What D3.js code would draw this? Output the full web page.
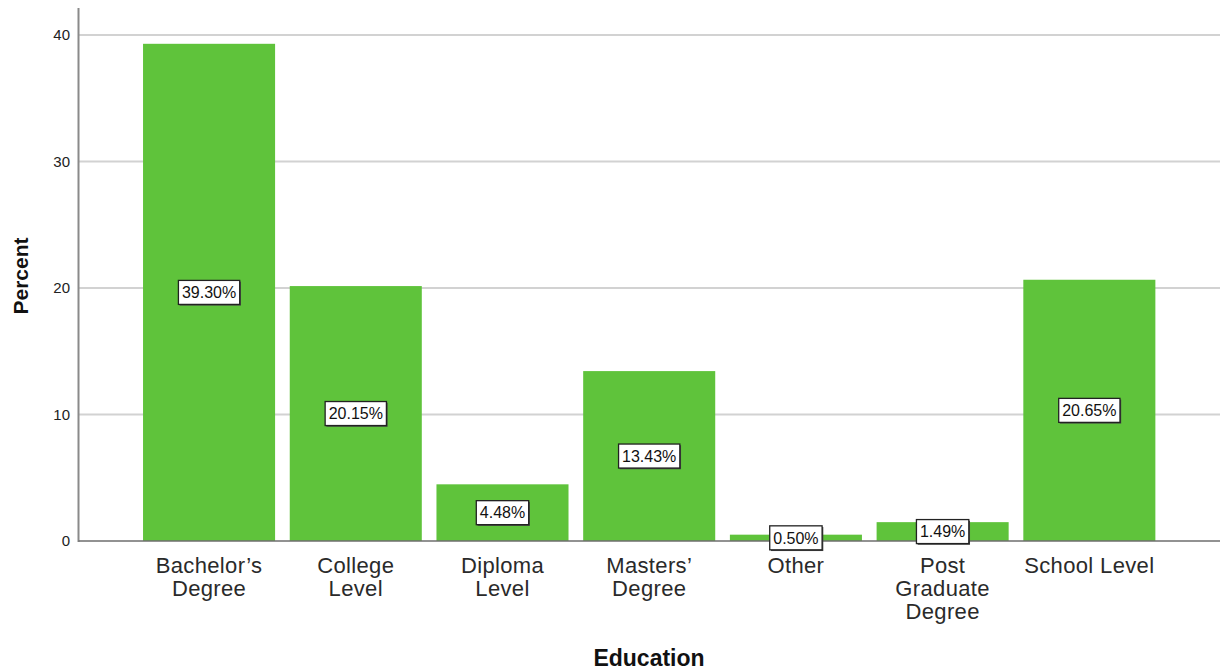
<!DOCTYPE html>
<html>
<head>
<meta charset="utf-8">
<script src="https://cdn.jsdelivr.net/npm/d3@7"></script>
<style>
  html, body { margin: 0; padding: 0; background: #fff; }
  svg { display: block; font-family: "Liberation Sans", Arial, sans-serif; }
</style>
</head>
<body>
<svg id="chart" width="1223" height="670"></svg>
<script>
const categories = ["Bachelor’s Degree", "College Level", "Diploma Level", "Masters’ Degree", "Other", "Post Graduate Degree", "School Level"];
const labelLines = [["Bachelor’s", "Degree"], ["College", "Level"], ["Diploma", "Level"], ["Masters’", "Degree"], ["Other"], ["Post", "Graduate", "Degree"], ["School Level"]];
const percents = [39.30, 20.15, 4.48, 13.43, 0.50, 1.49, 20.65];
const yTicks = [0, 10, 20, 30, 40];
const xTitle = "Education";
const yTitle = "Percent";

const svg = d3.select("#chart");
const axisX = 78.5, plotRight = 1220, plotTop = 8, plotBottom = 541;

const y = d3.scaleLinear().domain([0, 42.13]).range([plotBottom, plotTop]);
const x = d3.scaleBand().domain(categories).range([135.7, 1162.7]).paddingInner(0.1).paddingOuter(0.05);

// gridlines
svg.append("g").selectAll("line").data(yTicks.filter(d => d > 0)).join("line")
  .attr("x1", axisX).attr("x2", plotRight)
  .attr("y1", d => y(d)).attr("y2", d => y(d))
  .attr("stroke", "#d2d2d2").attr("stroke-width", 2);

// bars
svg.append("g").selectAll("rect").data(categories).join("rect")
  .attr("x", d => x(d)).attr("width", x.bandwidth())
  .attr("y", (d, i) => y(percents[i]))
  .attr("height", (d, i) => y(0) - y(percents[i]))
  .attr("fill", "#5fc33b");

// axes lines
svg.append("line").attr("x1", axisX).attr("x2", axisX).attr("y1", plotTop).attr("y2", plotBottom + 1)
  .attr("stroke", "#8a8a8a").attr("stroke-width", 2);
svg.append("line").attr("x1", axisX).attr("x2", plotRight).attr("y1", plotBottom).attr("y2", plotBottom)
  .attr("stroke", "#6e6e6e").attr("stroke-width", 1.5);

// y tick labels
svg.append("g").selectAll("text").data(yTicks).join("text")
  .attr("x", 70).attr("y", d => y(d)).attr("dy", "0.36em")
  .attr("text-anchor", "end").attr("font-size", 15).attr("fill", "#222")
  .text(d => d);

// x labels
const xl = svg.append("g").selectAll("text").data(categories).join("text")
  .attr("text-anchor", "middle").attr("font-size", 22).attr("letter-spacing", 0.35).attr("fill", "#2a2a2a")
  .attr("x", d => x(d) + x.bandwidth() / 2).attr("y", 573);
xl.each(function(d, i) {
  const t = d3.select(this);
  labelLines[i].forEach((ln, j) => {
    t.append("tspan").attr("x", x(d) + x.bandwidth() / 2).attr("dy", j === 0 ? 0 : 23).text(ln);
  });
});

// value labels
const vl = svg.append("g").selectAll("g").data(categories).join("g")
  .attr("transform", (d, i) => `translate(${x(d) + x.bandwidth() / 2},${y(percents[i] / 2)})`);
vl.each(function(d, i) {
  const g = d3.select(this);
  const txt = g.append("text").attr("text-anchor", "middle").attr("dy", "0.36em")
    .attr("font-size", 16).attr("fill", "#111").text(percents[i].toFixed(2) + "%");
  const bb = txt.node().getBBox();
  const w = bb.width + 7, h = 24;
  g.insert("rect", "text").attr("x", -w / 2 + 1.2).attr("y", -h / 2 + 1.2).attr("width", w).attr("height", h)
    .attr("fill", "#444");
  g.insert("rect", "text").attr("x", -w / 2).attr("y", -h / 2).attr("width", w).attr("height", h)
    .attr("fill", "#fff").attr("stroke", "#222").attr("stroke-width", 1.3);
});

// titles
svg.append("text").attr("x", 649).attr("y", 666).attr("text-anchor", "middle")
  .attr("font-size", 23).attr("font-weight", "bold").attr("fill", "#111").text(xTitle);
svg.append("text").attr("transform", "translate(28,276) rotate(-90)").attr("text-anchor", "middle")
  .attr("font-size", 21).attr("font-weight", "bold").attr("fill", "#111").text(yTitle);
</script>
</body>
</html>
